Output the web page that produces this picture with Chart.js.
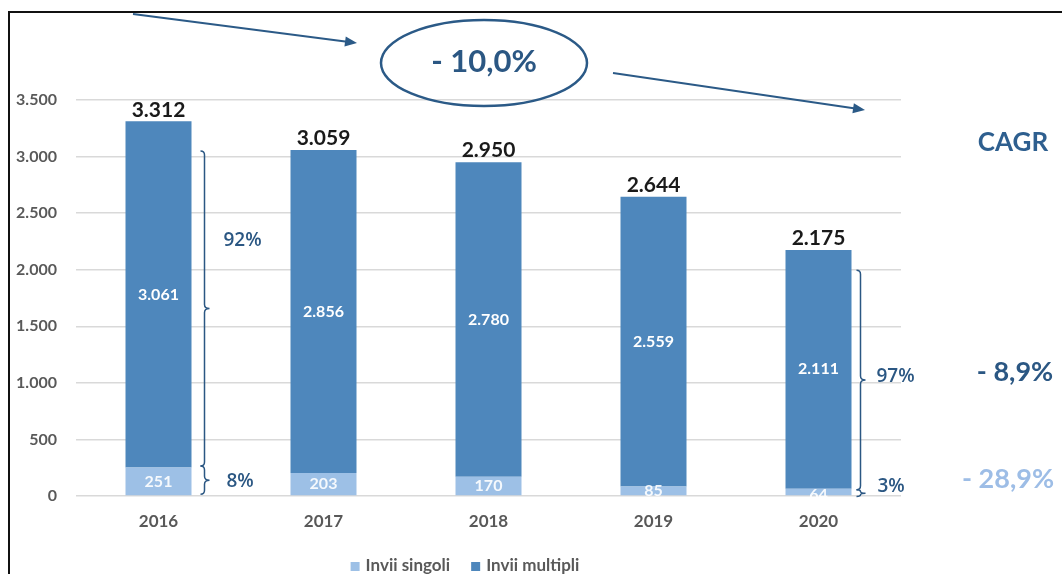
<!DOCTYPE html>
<html>
<head>
<meta charset="utf-8">
<script src="https://cdn.jsdelivr.net/npm/chart.js@4.4.1/dist/chart.umd.min.js"></script>
<style>
  html, body { margin: 0; padding: 0; background: #fff; }
  #wrap { width: 1062px; height: 574px; position: relative; }
</style>
</head>
<body>
<div id="wrap"><canvas id="chart" width="1062" height="574"></canvas></div>
<script>
// dati
const anni = ['2016', '2017', '2018', '2019', '2020'];
const inviiSingoli = [251, 203, 170, 85, 64];
const inviiMultipli = [3061, 2856, 2780, 2559, 2111];
const totali = [3312, 3059, 2950, 2644, 2175];
const yTicks = [0, 500, 1000, 1500, 2000, 2500, 3000, 3500];

const FONT = 'Lato, "Open Sans", sans-serif';
const FONT_PCT = '"Open Sans", Lato, sans-serif';
const BLU = '#4e87bc';
const AZZURRO = '#9dc0e6';
const BLU_SCURO = '#2b5783';

const fmt = v => String(v).replace(/\B(?=(\d{3})+(?!\d))/g, '.');

function graffa(ctx, x, top, bot) {
    const mid = (top + bot) / 2;
    const r = Math.min(4, (bot - top) / 4);
    ctx.beginPath();
    ctx.moveTo(x - 4, top);
    ctx.quadraticCurveTo(x, top, x, top + r);
    ctx.lineTo(x, mid - r);
    ctx.quadraticCurveTo(x, mid, x + 5, mid);
    ctx.quadraticCurveTo(x, mid, x, mid + r);
    ctx.lineTo(x, bot - r);
    ctx.quadraticCurveTo(x, bot, x - 4, bot);
    ctx.stroke();
}

function freccia(ctx, x1, y1, x2, y2) {
    const a = Math.atan2(y2 - y1, x2 - x1);
    ctx.beginPath();
    ctx.moveTo(x1, y1);
    ctx.lineTo(x2 - 8 * Math.cos(a), y2 - 8 * Math.sin(a));
    ctx.stroke();
    ctx.beginPath();
    ctx.moveTo(x2, y2);
    ctx.lineTo(x2 - 12 * Math.cos(a) + 5 * Math.sin(a), y2 - 12 * Math.sin(a) - 5 * Math.cos(a));
    ctx.lineTo(x2 - 12 * Math.cos(a) - 5 * Math.sin(a), y2 - 12 * Math.sin(a) + 5 * Math.cos(a));
    ctx.closePath();
    ctx.fill();
}

const annotazioni = {
    id: 'annotazioni',
    afterDatasetsDraw(chart) {
        const ctx = chart.ctx;
        const x = chart.scales.x, y = chart.scales.y;
        const metaS = chart.getDatasetMeta(0), metaM = chart.getDatasetMeta(1);
        ctx.save();

        // etichette dentro le barre
        ctx.textAlign = 'center';
        ctx.textBaseline = 'middle';
        ctx.font = 'bold 16px ' + FONT;
        metaM.data.forEach((bar, i) => {
            ctx.fillStyle = '#ffffff';
            ctx.fillText(fmt(inviiMultipli[i]), bar.x, (bar.y + bar.base) / 2);
        });
        metaS.data.forEach((bar, i) => {
            ctx.fillStyle = 'rgba(255,255,255,0.9)';
            ctx.fillText(fmt(inviiSingoli[i]), bar.x, (bar.y + bar.base) / 2 + (i === 4 ? 3 : 0));
        });

        // totali sopra le barre
        ctx.font = 'bold 21px ' + FONT;
        ctx.fillStyle = '#1a1a1a';
        ctx.textBaseline = 'bottom';
        metaM.data.forEach((bar, i) => {
            ctx.fillText(fmt(totali[i]), bar.x, bar.y - 1);
        });

        // graffe e percentuali
        ctx.strokeStyle = BLU_SCURO;
        ctx.fillStyle = BLU_SCURO;
        ctx.lineWidth = 1.5;
        const x0 = x.getPixelForValue(0) + 46;
        graffa(ctx, x0, y.getPixelForValue(3050), y.getPixelForValue(265));
        graffa(ctx, x0, y.getPixelForValue(265), y.getPixelForValue(15));
        const x4 = x.getPixelForValue(4) + 42;
        graffa(ctx, x4, y.getPixelForValue(1995), y.getPixelForValue(55));
        graffa(ctx, x4, y.getPixelForValue(55), y.getPixelForValue(-5));

        ctx.textAlign = 'left';
        ctx.textBaseline = 'middle';
        ctx.font = '600 19px ' + FONT_PCT;
        ctx.fillText('92%', x0 + 19, 241);
        ctx.fillText('8%', x0 + 22, 482);
        ctx.fillText('97%', x4 + 16, 377);
        ctx.fillText('3%', x4 + 17, 487);

        // CAGR
        ctx.textAlign = 'center';
        ctx.font = 'bold 26px ' + FONT;
        ctx.fillStyle = '#2e5f8f';
        ctx.fillText('CAGR', 1013, 143);
        ctx.font = 'bold 27px ' + FONT;
        ctx.fillStyle = BLU_SCURO;
        ctx.fillText('- 8,9%', 1015, 372);
        ctx.fillStyle = '#9dbde6';
        ctx.fillText('- 28,9%', 1008, 479);

        // ellisse e frecce
        ctx.strokeStyle = '#2b5a87';
        ctx.fillStyle = '#2b5a87';
        ctx.lineWidth = 2.5;
        ctx.beginPath();
        ctx.ellipse(484, 63, 103, 43, 0, 0, Math.PI * 2);
        ctx.stroke();
        ctx.font = 'bold 31px ' + FONT;
        ctx.fillStyle = BLU_SCURO;
        ctx.fillText('- 10,0%', 484, 62);
        ctx.fillStyle = '#2b5a87';
        ctx.lineWidth = 2;
        freccia(ctx, 133, 14, 357, 43);
        freccia(ctx, 613, 73, 865, 110);

        // cornice
        ctx.strokeStyle = '#111';
        ctx.lineWidth = 2;
        ctx.beginPath();
        ctx.moveTo(9, 574);
        ctx.lineTo(9, 12);
        ctx.lineTo(1062, 12);
        ctx.stroke();

        // legenda
        ctx.font = 'bold 17px ' + FONT;
        ctx.textAlign = 'left';
        ctx.textBaseline = 'middle';
        const items = chart.data.datasets.map(d => ({ label: d.label, color: d.backgroundColor }));
        const widths = items.map(it => 9 + 6 + ctx.measureText(it.label).width);
        const total = widths.reduce((a, b) => a + b, 0) + 21 * (items.length - 1);
        let lx = 465 - total / 2;
        items.forEach((it, i) => {
            ctx.fillStyle = it.color;
            ctx.fillRect(lx, 562, 9, 9);
            ctx.fillStyle = '#595959';
            ctx.fillText(it.label, lx + 15, 566);
            lx += widths[i] + 21;
        });

        ctx.restore();
    }
};

new Chart(document.getElementById('chart'), {
    type: 'bar',
    data: {
        labels: anni,
        datasets: [
            {
                label: 'Invii singoli',
                data: inviiSingoli,
                backgroundColor: AZZURRO,
                categoryPercentage: 1,
                barPercentage: 0.4
            },
            {
                label: 'Invii multipli',
                data: inviiMultipli,
                backgroundColor: BLU,
                categoryPercentage: 1,
                barPercentage: 0.4
            }
        ]
    },
    options: {
        responsive: false,
        animation: false,
        layout: { padding: { left: 0, top: 100, right: 161, bottom: 0 } },
        plugins: {
            legend: { display: false },
            tooltip: { enabled: false }
        },
        scales: {
            x: {
                stacked: true,
                grid: { display: false, drawTicks: false },
                border: { display: false },
                ticks: { color: '#595959', font: { family: FONT, size: 17, weight: 'bold' }, padding: 15 },
                afterFit: s => { s.height = 78; }
            },
            y: {
                stacked: true,
                min: 0,
                max: 3500,
                afterBuildTicks: s => { s.ticks = yTicks.map(v => ({ value: v })); },
                grid: { color: '#d9d9d9', lineWidth: 1.5, drawTicks: false },
                border: { display: false },
                ticks: {
                    color: '#595959',
                    font: { family: FONT, size: 16, weight: 'bold' },
                    padding: 19,
                    callback: v => fmt(v)
                },
                afterFit: s => { s.width = 76; }
            }
        }
    },
    plugins: [annotazioni]
});
</script>
</body>
</html>
